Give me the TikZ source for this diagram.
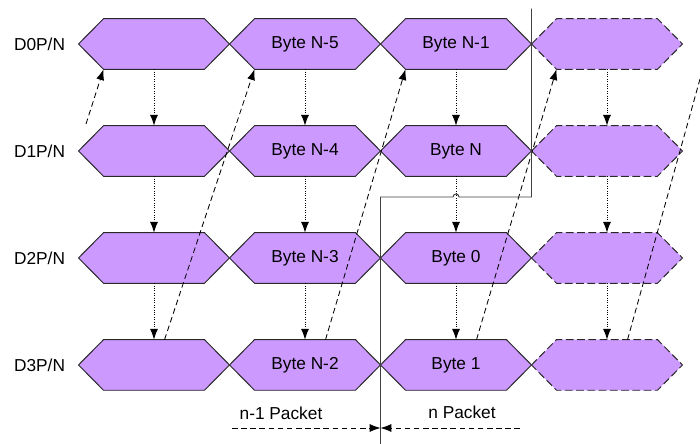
\documentclass[tikz,border=0pt]{standalone}
\usepackage{fontspec}
\setmainfont{Liberation Sans}
\usetikzlibrary{positioning, arrows.meta, backgrounds}
\definecolor{colByte}{RGB}{204, 153, 255}
\definecolor{colEdge}{RGB}{40, 40, 40}

\begin{document}
\begin{tikzpicture}[
  x=0.025cm, y=-0.025cm,
  >={Latex[length=2.7mm, width=2mm]},
  byte/.style={minimum width=3.76cm, minimum height=1.25cm, inner sep=0pt,
               font=\fontsize{12.3}{14}\selectfont},
  rowlbl/.style={inner sep=0pt, font=\fontsize{12.3}{14}\selectfont},
  hexa/.style={fill=colByte, draw=colEdge, line width=0.7pt},
  hexnext/.style={fill=colByte, draw=colEdge, line width=0.7pt,
                  dash pattern=on 5.5pt off 2.5pt},
  lanearr/.style={->, densely dotted, line width=0.7pt},
  crossarr/.style={dash pattern=on 4pt off 2.5pt, line width=0.6pt},
  bound/.style={draw=black!75, line width=0.7pt}
]
\useasboundingbox (0,0) rectangle (700,444);

% ---------- Lignes D0 .. D3 ----------
\node[byte] (d0c1) at (154,44) {};
\node[byte, right=0pt of d0c1] (d0c2) {Byte N-5};
\node[byte, right=0pt of d0c2] (d0c3) {Byte N-1};
\node[byte, right=0pt of d0c3] (d0c4) {};

\node[byte, below=1.41cm of d0c1] (d1c1) {};
\node[byte, right=0pt of d1c1] (d1c2) {Byte N-4};
\node[byte, right=0pt of d1c2] (d1c3) {Byte N};
\node[byte, right=0pt of d1c3] (d1c4) {};

\node[byte, below=1.41cm of d1c1] (d2c1) {};
\node[byte, right=0pt of d2c1] (d2c2) {Byte N-3};
\node[byte, right=0pt of d2c2] (d2c3) {Byte 0};
\node[byte, right=0pt of d2c3] (d2c4) {};

\node[byte, below=1.41cm of d2c1] (d3c1) {};
\node[byte, right=0pt of d3c1] (d3c2) {Byte N-2};
\node[byte, right=0pt of d3c2] (d3c3) {Byte 1};
\node[byte, right=0pt of d3c3] (d3c4) {};

% ---------- Noms des lignes ----------
\node[rowlbl, left=0.33cm of d0c1] (l0) {D0P/N};
\node[rowlbl, left=0.33cm of d1c1] (l1) {D1P/N};
\node[rowlbl, left=0.33cm of d2c1] (l2) {D2P/N};
\node[rowlbl, left=0.33cm of d3c1] (l3) {D3P/N};

% ---------- Hexagones ----------
\begin{scope}[on background layer]
  \foreach \n in {d0c1,d0c2,d0c3,d1c1,d1c2,d1c3,d2c1,d2c2,d2c3,d3c1,d3c2,d3c3}
    \draw[hexa] (\n.west) -- ([xshift=6.25mm]\n.north west)
      -- ([xshift=-6.25mm]\n.north east) -- (\n.east)
      -- ([xshift=-6.25mm]\n.south east) -- ([xshift=6.25mm]\n.south west) -- cycle;
  \foreach \n in {d0c4,d1c4,d2c4,d3c4}
    \draw[hexnext] (\n.west) -- ([xshift=6.25mm]\n.north west)
      -- ([xshift=-6.25mm]\n.north east) -- (\n.east)
      -- ([xshift=-6.25mm]\n.south east) -- ([xshift=6.25mm]\n.south west) -- cycle;
\end{scope}

% ---------- Flèches verticales ----------
\foreach \c in {1,2,3,4} {
  \draw[lanearr] (d0c\c.south) -- (d1c\c.north);
  \draw[lanearr] (d1c\c.south) -- (d2c\c.north);
  \draw[lanearr] (d2c\c.south) -- (d3c\c.north);
}

% ---------- Flèches obliques D3 -> D0 ----------
\coordinate (inL) at (86,124);
\coordinate (outR) at (700,79);
\draw[crossarr, ->] (inL) -- ([xshift=6.25mm]d0c1.south west);
\draw[crossarr, ->] ([xshift=2.15cm]d3c1.north west) -- ([xshift=6.25mm]d0c2.south west);
\draw[crossarr, ->] ([xshift=2.4cm]d3c2.north west) -- ([xshift=6.25mm]d0c3.south west);
\draw[crossarr, ->] ([xshift=2.4cm]d3c3.north west) -- ([xshift=6.25mm]d0c4.south west);
\draw[crossarr] ([xshift=2.4cm]d3c4.north west) -- (outR);

% ---------- Frontière des paquets ----------
\draw[bound] ([yshift=0.25cm]d0c3.north east) -- (d1c3.east |- 0,197)
  -- ([xshift=0.075cm]d1c3.south |- 0,197)
  arc[start angle=0, end angle=180, radius=0.075cm]
  -- (d1c3.west |- 0,197) -- (d1c3.west |- 0,444);

% ---------- Paquets ----------
\node[rowlbl] (pkOld) at (281,413) {n-1 Packet};
\node[rowlbl] (pkNew) at (462,412) {n Packet};
\coordinate (oldStart) at (232,428);
\coordinate (newStart) at (520,428);
\draw[crossarr, ->] (oldStart) -- (d3c3.west |- oldStart);
\draw[crossarr, ->] (newStart) -- (d3c3.west |- newStart);

\end{tikzpicture}
\end{document}
